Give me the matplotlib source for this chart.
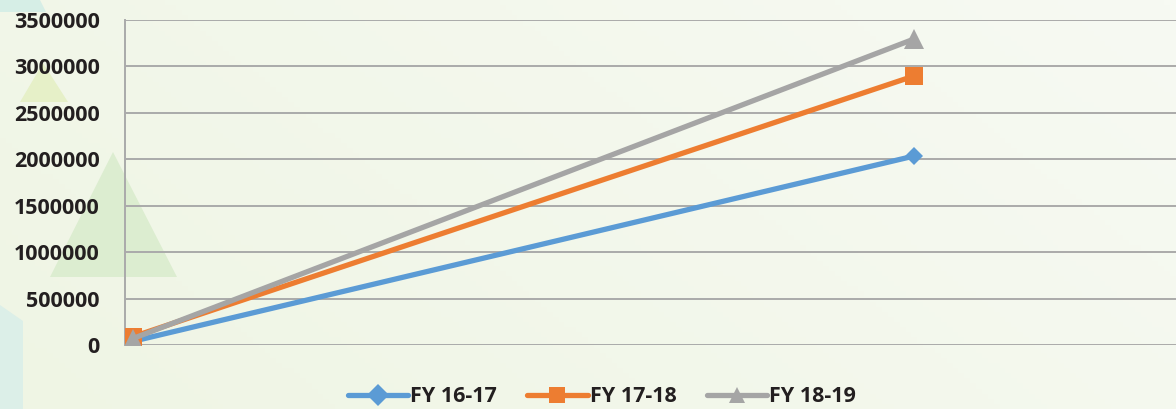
import numpy as np
import matplotlib.pyplot as plt
from matplotlib.patches import Polygon
from matplotlib.colors import LinearSegmentedColormap

plt.rcParams['font.family'] = ['Open Sans', 'DejaVu Sans']

periods = [0, 1]
fy_16_17 = [40000, 2035000]
fy_17_18 = [90000, 2897000]
fy_18_19 = [70000, 3295000]
series_names = ['FY 16-17', 'FY 17-18', 'FY 18-19']
y_ticks = [0, 500000, 1000000, 1500000, 2000000, 2500000, 3000000, 3500000]

W, H = 1176, 409
fig = plt.figure(figsize=(W / 100, H / 100), dpi=100)

# soft gradient background
bg = fig.add_axes([0, 0, 1, 1], zorder=0)
gx, gy = np.meshgrid(np.linspace(0, 1, 200), np.linspace(0, 1, 80))
cmap = LinearSegmentedColormap.from_list('bg', ['#eff5e4', '#f7faf3'])
bg.imshow(0.7 * gx + 0.3 * gy, cmap=cmap, aspect='auto', extent=[0, W, H, 0], origin='lower')
bg.set_xlim(0, W)
bg.set_ylim(H, 0)
bg.axis('off')

def px_poly(pts, color):
    bg.add_patch(Polygon(pts, closed=True, facecolor=color, edgecolor='none'))

px_poly([(0, 0), (40, 0), (46, 12), (0, 12)], '#d6eee6')
px_poly([(20, 102), (68, 102), (43, 63)], '#e6f0c8')
px_poly([(50, 277), (177, 277), (113, 152)], '#dcedd0')
px_poly([(0, 305), (23, 321), (23, 409), (0, 409)], '#dcefe8')

ax = fig.add_axes([125 / W, 1 - 345 / H, 1 - 125 / W, 325 / H], zorder=2)
ax.set_facecolor('none')

colors = ['#5b9bd5', '#ed7d31', '#a5a5a5']
markers = ['D', 's', '^']
msizes = [9, 13, 14]
for vals, name, c, m, ms in zip([fy_16_17, fy_17_18, fy_18_19], series_names, colors, markers, msizes):
    ax.plot(periods, vals, color=c, lw=3.8, marker=m, markersize=ms,
            markeredgewidth=0, label=name, solid_capstyle='round', zorder=3)

scale = 781.0
ax.set_xlim(-8 / scale, (W - 125 - 8) / scale)
ax.set_ylim(0, 3500000)
ax.set_yticks(y_ticks)
ax.set_yticklabels([str(v) for v in y_ticks], fontsize=15.5, fontweight='bold', color='#231f20')
ax.tick_params(axis='y', length=0, pad=18)
ax.tick_params(axis='x', length=0, labelbottom=False)
ax.grid(axis='y', color='#aaaaaa', lw=1.4)
for s in ['top', 'right', 'bottom']:
    ax.spines[s].set_visible(False)
ax.spines['left'].set_color('#aaaaaa')
ax.spines['left'].set_linewidth(1.4)

leg = fig.legend(loc='center', bbox_to_anchor=(602 / W, 1 - 397 / H), ncol=3, frameon=False,
                 prop={'size': 15.5, 'weight': 'bold'}, handlelength=2.8, columnspacing=1.4,
                 handletextpad=0.1, labelcolor='#231f20')
leg.set_zorder(3)
for h in leg.legend_handles:
    h.set_markersize(11)

fig.savefig('out.png', dpi=100)
